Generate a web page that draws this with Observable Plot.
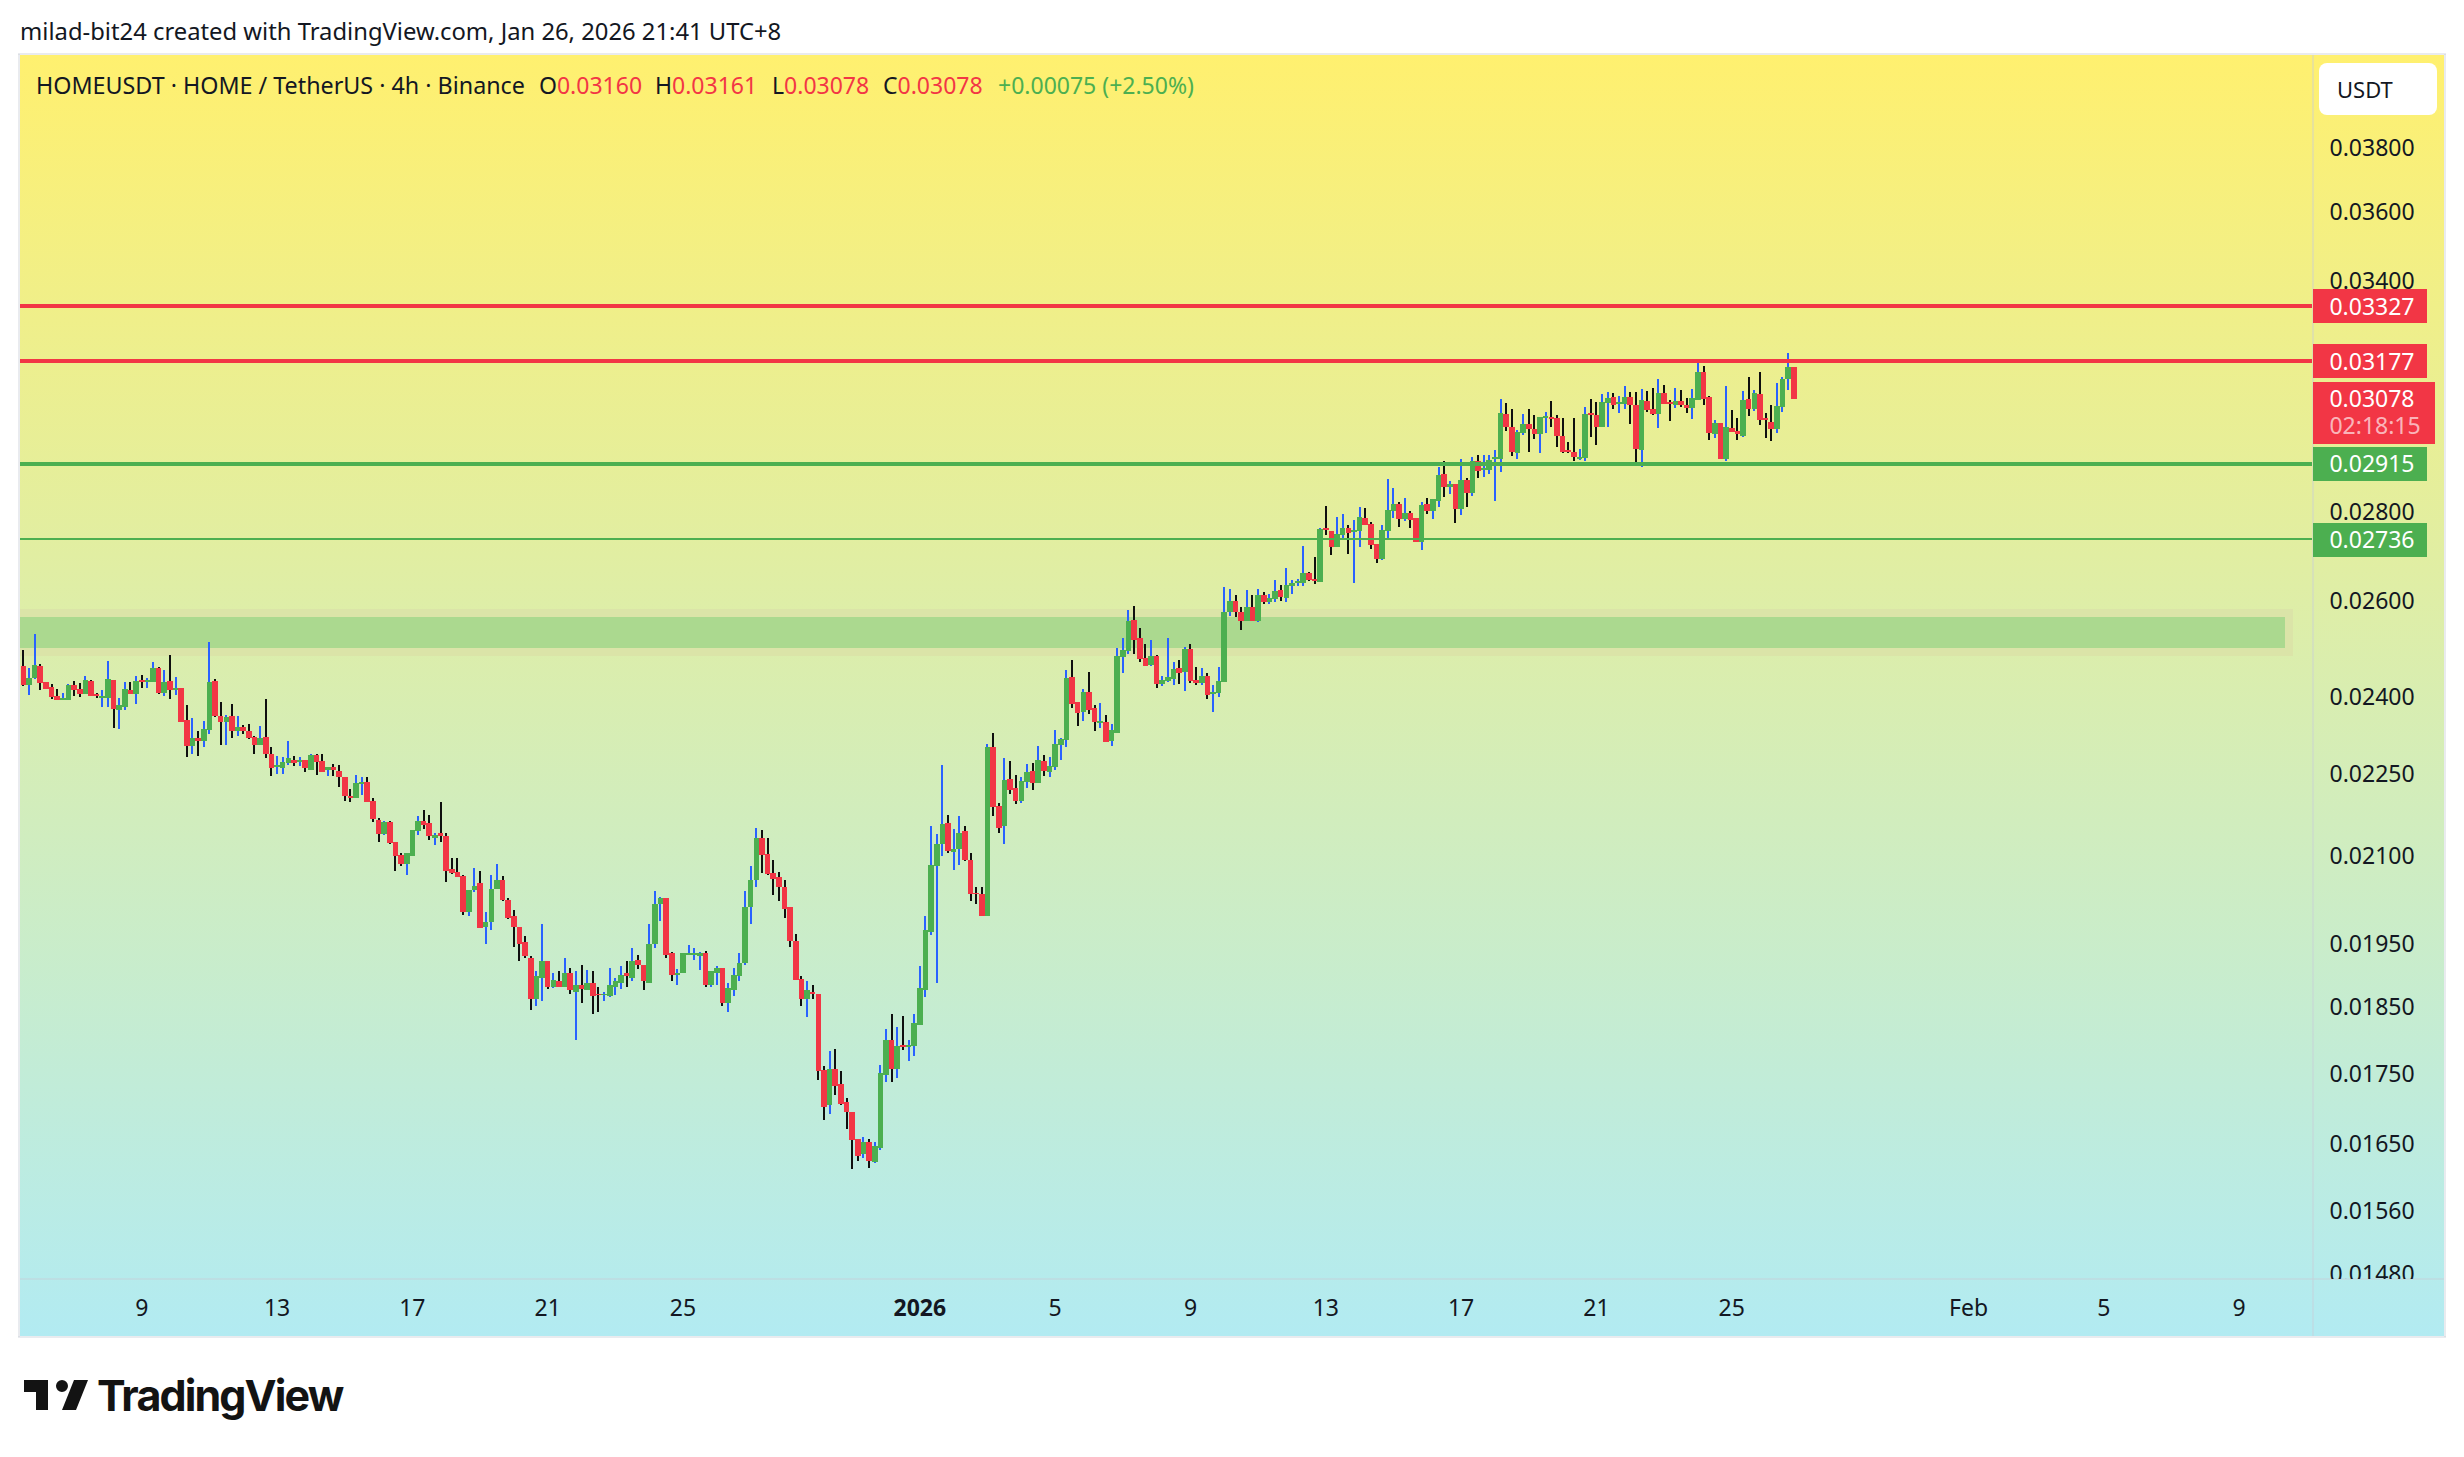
<!DOCTYPE html>
<html>
<head>
<meta charset="utf-8">
<script src="https://cdn.jsdelivr.net/npm/d3@7"></script>
<script src="https://cdn.jsdelivr.net/npm/@observablehq/plot@0.6"></script>
<style>
html,body{margin:0;padding:0;background:#fff;}
#page{position:relative;width:2464px;height:1457px;overflow:hidden;font-family:"Noto Sans",sans-serif;color:#131722;}
#panel{position:absolute;left:20px;top:55px;width:2424px;height:1281px;background:linear-gradient(180deg,#fff06f 0%,#b2ebf2 100%);}
.bline{position:absolute;background:rgba(200,205,215,.4);}
#plots svg{position:absolute;left:0;}
.hdr{position:absolute;white-space:pre;font-size:23px;line-height:30px;}
#usdt{position:absolute;left:2319px;top:63px;width:118px;height:52px;background:#fff;border-radius:8px;font-size:22px;line-height:52px;text-indent:18px;}
#wordmark{position:absolute;left:97px;top:1368px;font-family:Inter,sans-serif;font-weight:700;font-size:43px;line-height:54px;color:#131313;letter-spacing:-1.9px;}
</style>
</head>
<body>
<div id="page">
  <div class="hdr" style="left:20px;top:16px;font-size:23.8px" id="title">milad-bit24 created with TradingView.com, Jan 26, 2026 21:41 UTC+8</div>
  <div id="panel"></div>
  <div class="bline" style="left:2312px;top:55px;width:2px;height:1281px"></div>
  <div class="bline" style="left:20px;top:1278px;width:2424px;height:2px"></div>
  <div class="bline" style="left:18px;top:54px;width:2px;height:1283px"></div>
  <div class="bline" style="left:2444px;top:54px;width:2px;height:1283px"></div>
  <div class="bline" style="left:18px;top:53px;width:2428px;height:2px"></div>
  <div class="bline" style="left:18px;top:1336px;width:2428px;height:2px"></div>
  <div id="plots"></div>
  <div class="hdr" style="left:36px;top:70px;font-size:23.3px">HOMEUSDT · HOME / TetherUS · 4h · Binance</div>
  <div class="hdr" style="left:539px;top:70px">O<span style="color:#f23645">0.03160</span></div>
  <div class="hdr" style="left:655px;top:70px">H<span style="color:#f23645">0.03161</span></div>
  <div class="hdr" style="left:772px;top:70px">L<span style="color:#f23645">0.03078</span></div>
  <div class="hdr" style="left:883px;top:70px">C<span style="color:#f23645">0.03078</span></div>
  <div class="hdr" style="left:998px;top:70px;color:#4caf50">+0.00075 (+2.50%)</div>
  <div id="usdt">USDT</div>
  <svg style="position:absolute;left:20px;top:1368px" width="72" height="56" viewBox="0 0 36 28"><path fill="#131313" d="M14 6H2v6h6v9h6V6zm14 15h-7l6-15h7l-6 15zm-7-9a3 3 0 1 0 0-6 3 3 0 0 0 0 6z"/></svg>
  <div id="wordmark">TradingView</div>
</div>
<script>
// Candle values in units of 0.00001 USDT, one per 4h candle, starting 2025-12-05 12:00
const firstCandle = Date.UTC(2025, 11, 5, 12);
const candleMs = 4 * 3600 * 1000;
const opens = [
2461,2422,2436,2461,2428,2418,2400,2392,2392,2422,
2414,2404,2430,2404,2396,2396,2432,2372,2378,2412,
2404,2432,2428,2428,2457,2406,2430,2412,2416,2352,
2300,2317,2311,2332,2430,2360,2348,2360,2329,2338,
2330,2319,2302,2319,2286,2260,2258,2269,2275,2271,
2275,2256,2283,2273,2256,2260,2254,2241,2207,2202,
2228,2233,2198,2163,2138,2159,2124,2101,2085,2099,
2143,2161,2158,2131,2140,2133,2076,2071,2063,2002,
2039,2051,1977,1985,2042,2057,2023,1996,1978,1952,
1927,1862,1895,1922,1880,1890,1880,1902,1872,1883,
1875,1887,1870,1867,1866,1881,1887,1902,1894,1924,
1916,1887,1949,2015,2025,1935,1900,1902,1932,1931,
1929,1935,1884,1902,1911,1855,1875,1898,1918,2010,
2056,2131,2102,2069,2061,2044,2010,1954,1893,1862,
1873,1870,1754,1703,1755,1733,1707,1694,1655,1635,
1652,1624,1643,1747,1798,1755,1791,1788,1790,1822,
1875,1969,2080,2120,2158,2106,2110,2142,2092,2035,
2033,1995,2299,2189,2151,2239,2222,2198,2233,2254,
2230,2273,2252,2260,2303,2313,2438,2388,2368,2408,
2376,2346,2348,2311,2327,2479,2492,2557,2519,2477,
2463,2481,2424,2430,2434,2457,2447,2496,2432,2426,
2440,2404,2406,2428,2574,2599,2574,2555,2586,2555,
2611,2596,2603,2622,2605,2631,2638,2638,2660,2646,
2640,2762,2755,2719,2746,2762,2753,2755,2785,2772,
2725,2691,2755,2802,2818,2783,2797,2785,2730,2818,
2802,2826,2890,2859,2866,2807,2875,2844,2922,2900,
2900,2926,2926,3039,3006,2941,2991,3013,3001,2988,
3029,3031,3029,2983,2948,2943,2926,2929,3041,3036,
3006,3067,3082,3065,3065,3082,3062,2948,3072,3052,
3039,3092,3070,3062,3072,3062,3054,3075,3147,3082,
2988,3016,2926,3003,2996,2983,3077,3052,3090,3029,
3018,3001,3057,3129,3160];
const highs = [
2494,2457,2528,2465,2428,2423,2414,2406,2424,2430,
2426,2440,2432,2406,2412,2471,2432,2396,2428,2428,
2440,2442,2436,2469,2459,2453,2483,2438,2416,2382,
2356,2329,2350,2511,2434,2388,2362,2384,2360,2342,
2344,2321,2340,2394,2298,2281,2279,2311,2281,2279,
2275,2286,2285,2285,2260,2267,2265,2241,2220,2246,
2241,2241,2202,2167,2161,2161,2124,2104,2104,2145,
2170,2181,2172,2140,2196,2140,2094,2094,2066,2039,
2078,2073,2002,2066,2085,2063,2026,2005,1978,1962,
1929,1905,1982,1922,1902,1905,1927,1911,1905,1916,
1908,1905,1880,1873,1911,1894,1914,1921,1942,1931,
1916,1983,2037,2028,2026,1937,1909,1934,1947,1942,
1937,1938,1906,1913,1911,1887,1911,1934,2037,2080,
2149,2144,2131,2092,2071,2057,2011,1965,1897,1890,
1883,1870,1760,1782,1785,1752,1714,1694,1655,1659,
1655,1651,1762,1815,1839,1818,1835,1798,1839,1914,
1995,2152,2138,2265,2172,2147,2169,2152,2103,2045,
2045,2305,2327,2194,2277,2273,2246,2241,2267,2269,
2300,2283,2279,2331,2317,2453,2473,2388,2414,2449,
2382,2386,2362,2344,2498,2519,2579,2588,2540,2506,
2515,2483,2440,2519,2469,2473,2500,2506,2459,2457,
2445,2422,2459,2629,2625,2612,2585,2622,2611,2625,
2618,2613,2644,2633,2671,2644,2646,2721,2662,2696,
2762,2814,2755,2788,2795,2769,2781,2811,2809,2776,
2725,2769,2877,2856,2823,2832,2802,2785,2823,2832,
2830,2907,2922,2873,2866,2926,2880,2931,2936,2936,
2936,2948,3077,3067,3052,2998,3039,3052,3036,3031,
3044,3072,3036,3029,2968,3029,2950,3056,3077,3070,
3090,3095,3092,3085,3111,3095,3095,3103,3098,3105,
3129,3113,3075,3105,3100,3080,3103,3182,3163,3085,
3024,3016,3111,3049,3029,3098,3135,3100,3147,3041,
3062,3119,3135,3198,3161];
const lows = [
2419,2402,2434,2412,2413,2394,2392,2392,2392,2400,
2398,2404,2400,2396,2378,2378,2336,2334,2372,2404,
2384,2416,2416,2428,2404,2400,2394,2402,2348,2279,
2285,2281,2298,2325,2358,2303,2303,2317,2321,2325,
2315,2286,2302,2277,2243,2248,2248,2264,2262,2262,
2252,2256,2246,2252,2244,2243,2224,2198,2196,2202,
2209,2196,2159,2124,2136,2120,2073,2080,2066,2099,
2136,2147,2126,2117,2124,2054,2067,2061,1998,1995,
2036,1975,1950,1973,2042,2020,1990,1945,1922,1927,
1845,1850,1858,1877,1878,1880,1880,1870,1798,1856,
1875,1839,1841,1858,1864,1867,1877,1880,1889,1909,
1875,1887,1942,1988,1926,1889,1883,1902,1931,1924,
1908,1881,1881,1884,1851,1841,1866,1890,1916,1983,
2045,2069,2066,2031,2021,1993,1944,1892,1850,1833,
1861,1739,1682,1690,1718,1704,1669,1614,1625,1629,
1616,1623,1640,1736,1737,1743,1783,1767,1774,1822,
1864,1964,1886,2099,2103,2074,2083,2090,2020,2015,
1995,1995,2170,2140,2120,2211,2191,2194,2222,2217,
2230,2243,2241,2256,2275,2298,2375,2339,2350,2364,
2329,2336,2309,2300,2327,2445,2486,2486,2469,2461,
2461,2416,2420,2428,2422,2424,2410,2426,2422,2422,
2394,2368,2398,2428,2566,2564,2536,2555,2555,2553,
2592,2592,2596,2598,2596,2613,2631,2631,2642,2635,
2640,2746,2701,2719,2739,2703,2638,2719,2769,2714,
2682,2689,2734,2785,2765,2779,2762,2730,2712,2795,
2783,2811,2835,2842,2774,2791,2811,2837,2880,2882,
2890,2826,2895,2995,2933,2926,2986,2943,2976,2941,
2991,3006,2956,2941,2941,2921,2924,2921,2981,2961,
3006,3006,3052,3041,3052,3013,2919,2907,3044,3036,
3003,3065,3021,3054,3056,3041,3026,3075,3062,2973,
2978,2926,2921,2993,2973,2981,3034,3047,3011,2978,
2971,2991,3044,3100,3078];
const closes = [
2422,2436,2463,2426,2414,2398,2392,2396,2422,2412,
2404,2432,2400,2400,2400,2434,2374,2382,2414,2404,
2430,2428,2432,2457,2406,2428,2412,2416,2348,2300,
2317,2311,2334,2428,2360,2348,2358,2330,2338,2330,
2317,2302,2317,2286,2258,2264,2271,2277,2269,2275,
2258,2283,2271,2252,2260,2256,2241,2207,2202,2231,
2233,2196,2165,2138,2159,2122,2099,2085,2103,2145,
2161,2154,2133,2136,2133,2073,2069,2061,2003,2039,
2047,1975,1985,2042,2056,2023,1993,1978,1950,1929,
1862,1898,1921,1880,1892,1880,1903,1875,1884,1877,
1887,1866,1867,1870,1883,1889,1900,1898,1922,1916,
1889,1950,2016,2025,1932,1900,1903,1934,1935,1934,
1934,1884,1905,1911,1856,1878,1900,1918,2010,2057,
2131,2100,2067,2059,2044,2008,1954,1892,1862,1875,
1870,1752,1701,1755,1731,1705,1693,1654,1632,1652,
1625,1646,1749,1798,1755,1790,1788,1791,1824,1878,
1972,2082,2120,2156,2108,2111,2140,2092,2033,2032,
1995,2299,2187,2149,2237,2218,2198,2235,2252,2231,
2275,2254,2262,2305,2315,2436,2384,2366,2408,2372,
2348,2350,2309,2331,2481,2494,2555,2515,2475,2461,
2481,2424,2432,2438,2455,2445,2496,2430,2426,2440,
2402,2408,2430,2574,2599,2574,2555,2586,2555,2611,
2596,2605,2620,2607,2633,2638,2642,2660,2644,2642,
2760,2758,2719,2749,2762,2751,2758,2788,2769,2723,
2691,2758,2804,2818,2783,2797,2781,2730,2816,2802,
2830,2888,2859,2866,2807,2875,2844,2922,2897,2905,
2924,2931,3041,3006,2943,2993,3013,3001,2988,3031,
3034,3026,2983,2943,2943,2931,2931,3039,3036,3006,
3070,3080,3062,3070,3082,3062,2950,3075,3049,3039,
3092,3065,3065,3072,3062,3054,3080,3147,3077,2991,
3016,2926,3006,2993,2988,3075,3052,3092,3024,3024,
3001,3060,3129,3160,3078];

const priceTicks = [0.038,0.036,0.034,0.028,0.026,0.024,0.0225,0.021,0.0195,0.0185,0.0175,0.0165,0.0156,0.0148];
const dayTicks = ["2025-12-09","2025-12-13","2025-12-17","2025-12-21","2025-12-25","2026-01-05","2026-01-09","2026-01-13","2026-01-17","2026-01-21","2026-01-25","2026-02-01","2026-02-05","2026-02-09"];
const dayLabels = ["9","13","17","21","25","5","9","13","17","21","25","Feb","5","9"];
const yearTick = [{date:new Date("2026-01-01"), label:"2026"}];

const levelPrices = [0.03327,0.03177,0.02915,0.02736];
const levelColors = ["#f23645","#f23645","#4caf50","#4caf50"];
const levelWidths = [4,4,4,2];
const lastPrice = 0.03078;
const countdown = "02:18:15";

const zoneOuter = [0.02581,0.02481];
const zoneInner = [0.02564,0.02498];

const RED="#f23645", GREEN="#4caf50", BLUE="#2962ff", BLACK="#0f0f0f";
const xDomain=[new Date("2025-12-05T10:00Z"),new Date("2026-02-11T04:00Z")];
const zoneStart=xDomain[0];
const zoneOuterEnd=new Date("2026-02-10T14:24Z");
const zoneInnerEnd=new Date("2026-02-10T09:00Z");
const badgeStart=new Date("2026-02-11T04:40Z");
const badgeEnd=new Date("2026-02-14T13:36Z");
const lastBadgeEnd=new Date("2026-02-14T19:16Z");
const badgeText=new Date("2026-02-11T16:00Z");

const candles = opens.map((o,i)=>({
  t:new Date(firstCandle+i*candleMs),
  o:o/1e5,h:highs[i]/1e5,l:lows[i]/1e5,c:closes[i]/1e5,
  up:closes[i]>o
}));
const levels = levelPrices.map((p,i)=>({p,color:levelColors[i],width:levelWidths[i]}));
const fmt = d3.format(".5f");
const shape = {shapeRendering:"crispEdges"};

const main = Plot.plot({
  width:2464, height:1279,
  marginLeft:20, marginRight:152, marginTop:0, marginBottom:0,
  style:{background:"transparent",fontFamily:'"Noto Sans",sans-serif',color:"#131722"},
  x:{type:"utc",domain:xDomain,axis:null},
  y:{type:"log",domain:[0.038,0.0165],range:[147,1143]},
  marks:[
    Plot.rect([0],{x1:()=>zoneStart,x2:()=>zoneOuterEnd,y1:()=>zoneOuter[0],y2:()=>zoneOuter[1],fill:"#dbe4a8",...shape}),
    Plot.rect([0],{x1:()=>zoneStart,x2:()=>zoneInnerEnd,y1:()=>zoneInner[0],y2:()=>zoneInner[1],fill:"#abd98f",...shape}),
    Plot.ruleX(candles,{x:"t",y1:"l",y2:"h",stroke:d=>d.up?BLUE:BLACK,strokeWidth:2,...shape}),
    Plot.ruleX(candles,{x:"t",y1:"o",y2:"c",stroke:d=>d.up?GREEN:RED,strokeWidth:5.6,...shape}),
    Plot.ruleY(levels,{y:"p",stroke:"color",strokeWidth:"width",dy:-0.5,...shape}),
    Plot.axisY({anchor:"right",ticks:priceTicks,tickFormat:fmt,tickSize:0,tickPadding:17,fontSize:23,label:null,fill:"#131722",dy:1}),
    Plot.ruleY(levels,{y:"p",x1:()=>badgeStart,x2:()=>badgeEnd,stroke:"color",strokeWidth:34,...shape}),
    Plot.ruleY([lastPrice],{x1:()=>badgeStart,x2:()=>lastBadgeEnd,stroke:RED,strokeWidth:62,dy:14,...shape}),
    Plot.text(levels,{x:()=>badgeText,y:"p",text:d=>fmt(d.p),fill:"#fff",fontSize:23,textAnchor:"start",dy:1}),
    Plot.text([lastPrice],{x:()=>badgeText,y:d=>d,text:d=>fmt(d),fill:"#fff",fontSize:23,textAnchor:"start",dy:1}),
    Plot.text([lastPrice],{x:()=>badgeText,y:d=>d,text:()=>countdown,fill:"#ffffff",fillOpacity:0.65,fontSize:23,textAnchor:"start",dy:28})
  ]
});
main.style.top="0px";

const timeAxis = Plot.plot({
  width:2464, height:57,
  marginLeft:20, marginRight:152, marginTop:0, marginBottom:40,
  style:{background:"transparent",fontFamily:'"Noto Sans",sans-serif',color:"#131722"},
  x:{type:"utc",domain:xDomain},
  marks:[
    Plot.axisX({anchor:"bottom",ticks:dayTicks.map(d=>new Date(d)),tickFormat:d=>dayLabels[dayTicks.indexOf(d.toISOString().slice(0,10))],tickSize:0,tickPadding:3,fontSize:23,label:null,fill:"#131722"}),
    Plot.text(yearTick,{x:"date",text:"label",frameAnchor:"bottom",dy:3,lineAnchor:"top",fontSize:23,fontWeight:700,fill:"#131722"})
  ]
});
timeAxis.style.top="1279px";
document.getElementById("plots").append(main,timeAxis);
</script>
</body>
</html>
